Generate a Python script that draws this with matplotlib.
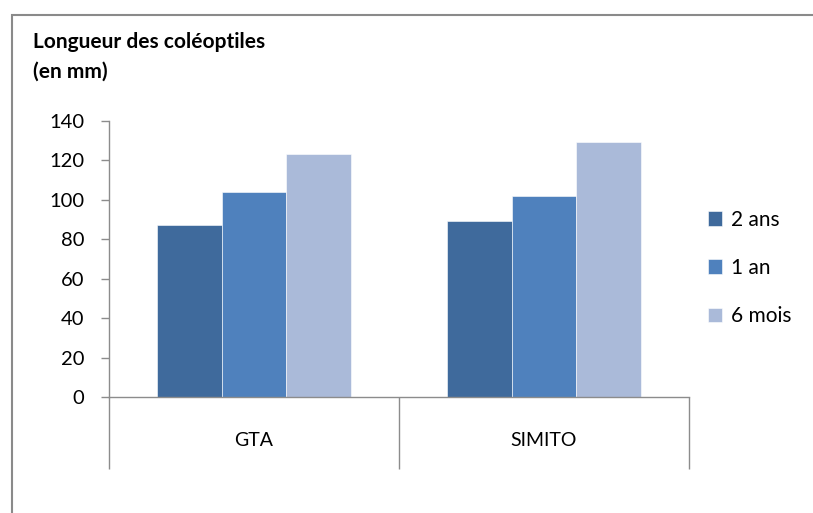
import matplotlib
matplotlib.use("Agg")
import matplotlib.pyplot as plt
import numpy as np
from matplotlib.patches import Rectangle

# data
categories = ["GTA", "SIMITO"]
series_names = ["2 ans", "1 an", "6 mois"]
values_2ans = [87, 89]
values_1an = [104, 102]
values_6mois = [123, 129]
y_ticks = [0, 20, 40, 60, 80, 100, 120, 140]

colors = ["#3F6A9C", "#4F81BD", "#AABAD9"]
grey = "#8C8C8C"

plt.rcParams["font.family"] = ["Lato", "DejaVu Sans"]

fig = plt.figure(figsize=(8.13, 5.13), dpi=100)
fig.patch.set_facecolor("white")

# outer chart frame (runs off the right and bottom of the picture)
fig.add_artist(Rectangle((12 / 813, -0.1), 1.2, 1 - 15 / 513 + 0.1,
                         transform=fig.transFigure, fill=False,
                         edgecolor="#8A8A8A", linewidth=1.5))

ax = fig.add_axes([109 / 813, 1 - 397 / 513, 580 / 813, (397 - 120.7) / 513])

x = np.arange(len(categories))
width = 1 / 4.5
all_values = [values_2ans, values_1an, values_6mois]
for i, (name, vals) in enumerate(zip(series_names, all_values)):
    ax.bar(x + (i - 1) * width, vals, width, color=colors[i], label=name,
           edgecolor="white", linewidth=0.4)

ax.set_xlim(-0.5, len(categories) - 0.5)
ax.set_ylim(0, 140)
ax.set_yticks(y_ticks)
ax.tick_params(axis="y", direction="out", length=6, width=1, color=grey,
               labelsize=14.5, pad=12)

# category labels plus long separator ticks below the axis
ax.set_xticks(x)
ax.set_xticklabels(categories, fontsize=14)
ax.set_xticks(np.arange(len(categories) + 1) - 0.5, minor=True)
ax.tick_params(axis="x", which="major", length=0, pad=25)
ax.tick_params(axis="x", which="minor", direction="out", length=52,
               width=1, color=grey)

for side in ["top", "right"]:
    ax.spines[side].set_visible(False)
for side in ["left", "bottom"]:
    ax.spines[side].set_color(grey)
    ax.spines[side].set_linewidth(1)

fig.text(33 / 813, 1 - 42 / 513, "Longueur des coléoptiles", fontsize=15,
         fontweight="bold", va="center", ha="left")
fig.text(33 / 813, 1 - 72 / 513, "(en mm)", fontsize=15,
         fontweight="bold", va="center", ha="left")

fig.legend(loc="center left", bbox_to_anchor=(689 / 813, 1 - 268 / 513),
           frameon=False, fontsize=15, handlelength=0.7, handleheight=0.7,
           handletextpad=0.4, labelspacing=1.35)

fig.savefig("out.png", dpi=100)
